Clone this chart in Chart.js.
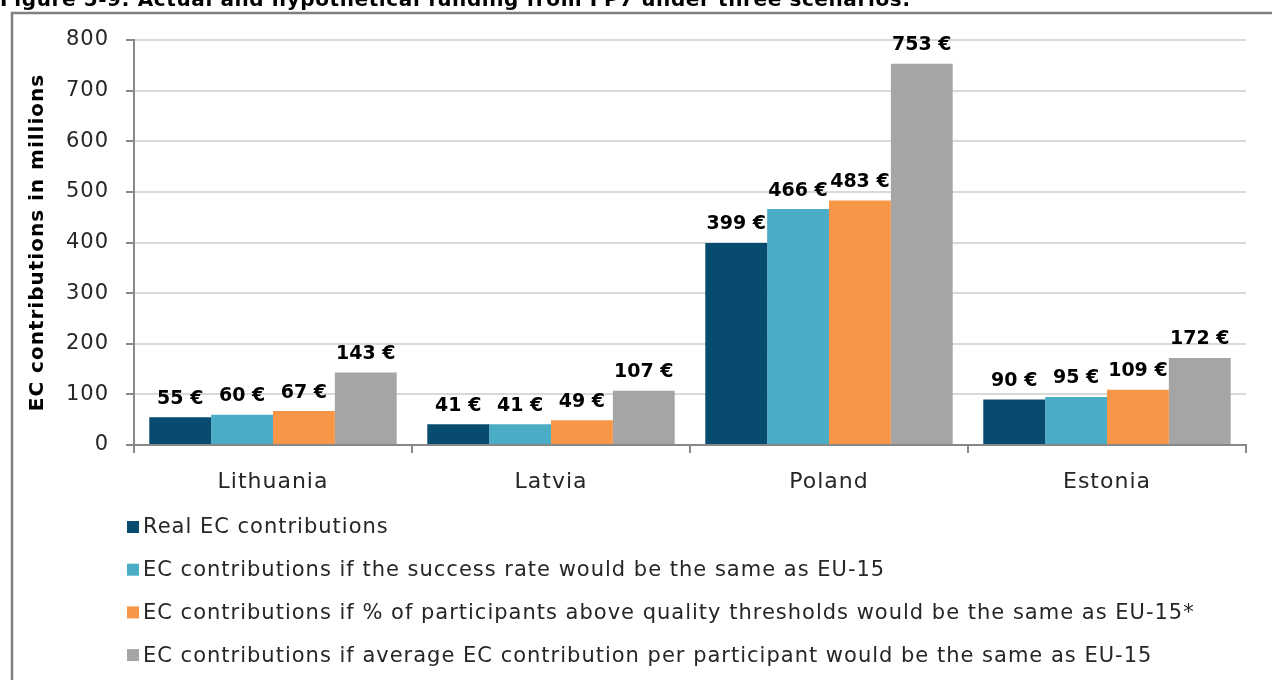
<!DOCTYPE html>
<html>
<head>
<meta charset="utf-8">
<title>FP7 funding scenarios</title>
<script src="https://cdn.jsdelivr.net/npm/chart.js@4/dist/chart.umd.min.js"></script>
<style>
  html, body { margin: 0; padding: 0; background: #fff; overflow: hidden; }
  #wrap { position: relative; width: 1272px; height: 680px; }
</style>
</head>
<body>
<div id="wrap"><canvas id="fundingChart" width="1272" height="680"></canvas></div>
<script>
const countries = ['Lithuania', 'Latvia', 'Poland', 'Estonia'];
const realContrib = [55, 41, 399, 90];
const successRateContrib = [60, 41, 466, 95];
const thresholdContrib = [67, 49, 483, 109];
const avgParticipantContrib = [143, 107, 753, 172];
const seriesNames = [
  'Real EC contributions',
  'EC contributions if the success rate would be the same as EU-15',
  'EC contributions if % of participants above quality thresholds would be the same as EU-15*',
  'EC contributions if average EC contribution per participant would be the same as EU-15'
];
const yTicks = [0, 100, 200, 300, 400, 500, 600, 700, 800];
const figureTitle = 'Figure 5-9: Actual and hypothetical funding from FP7 under three scenarios:';

const colors = ['#074B6E', '#4BACC6', '#F79646', '#A5A5A5'];
const FONT = '"DejaVu Sans", "Open Sans", sans-serif';

// a touch of tracking so the sans text runs as wide as a geometric face
const tracking = {
  id: 'tracking',
  beforeDraw(chart) {
    chart.ctx.letterSpacing = '1px';
  }
};

// frame, cut-off heading, value labels and the stacked legend
const decorations = {
  id: 'decorations',
  afterDraw(chart) {
    const ctx = chart.ctx;
    ctx.save();

    ctx.strokeStyle = '#808080';
    ctx.lineWidth = 2.5;
    ctx.beginPath();
    ctx.moveTo(12, 680);
    ctx.lineTo(12, 13);
    ctx.lineTo(1272, 13);
    ctx.stroke();

    ctx.fillStyle = '#000';
    ctx.letterSpacing = '0.6px';
    ctx.font = 'bold 20px ' + FONT;
    ctx.textAlign = 'left';
    ctx.textBaseline = 'alphabetic';
    ctx.fillText(figureTitle, 0, 6);

    ctx.letterSpacing = '0px';
    ctx.font = 'bold 19px ' + FONT;
    ctx.textAlign = 'center';
    ctx.textBaseline = 'bottom';
    chart.data.datasets.forEach((ds, i) => {
      chart.getDatasetMeta(i).data.forEach((bar, j) => {
        ctx.fillText(ds.data[j] + ' €', bar.x, bar.y - 9);
      });
    });

    ctx.letterSpacing = '1px';
    ctx.font = '21px ' + FONT;
    ctx.textAlign = 'left';
    ctx.textBaseline = 'middle';
    chart.data.datasets.forEach((ds, i) => {
      const y = 527 + i * 42.7;
      ctx.fillStyle = ds.backgroundColor;
      ctx.fillRect(127, y - 6, 12, 12);
      ctx.fillStyle = '#262626';
      ctx.fillText(ds.label, 143, y + 1);
    });

    ctx.restore();
  }
};

const ctx = document.getElementById('fundingChart').getContext('2d');
const fundingChart = new Chart(ctx, {
  type: 'bar',
  data: {
    labels: countries,
    datasets: [realContrib, successRateContrib, thresholdContrib, avgParticipantContrib].map((values, i) => ({
      label: seriesNames[i],
      data: values,
      backgroundColor: colors[i],
      borderWidth: 0,
      categoryPercentage: 0.89,
      barPercentage: 1.0
    }))
  },
  options: {
    responsive: false,
    animation: false,
    layout: { padding: { left: 14, top: 40, right: 26, bottom: 0 } },
    plugins: {
      legend: { display: false },
      tooltip: { enabled: false }
    },
    scales: {
      x: {
        afterFit: (scale) => { scale.height = 235; },
        grid: {
          offset: true,
          drawOnChartArea: false,
          color: '#888',
          tickColor: '#888',
          tickLength: 8,
          lineWidth: 2
        },
        border: { color: '#888', width: 2 },
        ticks: {
          color: '#262626',
          font: { family: FONT, size: 22 },
          padding: 16
        }
      },
      y: {
        min: 0,
        max: 800,
        afterFit: (scale) => { scale.width = 120; },
        afterBuildTicks: (scale) => { scale.ticks = yTicks.map(v => ({ value: v })); },
        grid: {
          color: '#D9D9D9',
          tickColor: '#888',
          tickLength: 8,
          lineWidth: 2
        },
        border: { color: '#888', width: 2 },
        ticks: {
          color: '#262626',
          font: { family: FONT, size: 21 },
          padding: 17
        },
        title: {
          display: true,
          text: 'EC contributions in millions',
          color: '#000',
          font: { family: FONT, size: 20, weight: 'bold' },
          padding: { top: 12, bottom: 0 }
        }
      }
    }
  },
  plugins: [tracking, decorations]
});
</script>
</body>
</html>
